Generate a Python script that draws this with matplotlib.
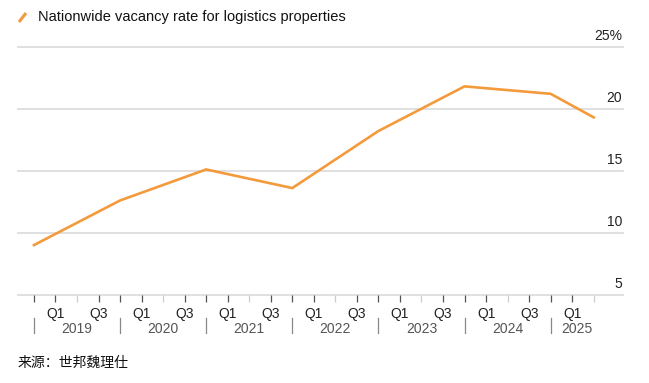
import matplotlib
matplotlib.use('Agg')
import matplotlib.pyplot as plt
import matplotlib.transforms as mtransforms
from matplotlib.lines import Line2D

plt.rcParams['font.family'] = ['Liberation Sans', 'Noto Sans CJK SC', 'DejaVu Sans']

# data, periods are quarter ends
periods = ['2018Q4', '2019Q4', '2020Q4', '2021Q4', '2022Q4', '2023Q4', '2024Q4', '2025Q2']
vacancy = [9.0, 12.6, 15.1, 13.6, 18.2, 21.8, 21.2, 19.3]
years = [2019, 2020, 2021, 2022, 2023, 2024, 2025]
y_ticks = [5, 10, 15, 20, 25]
series_name = 'Nationwide vacancy rate for logistics properties'
source = '来源：世邦魏理仕'

ORANGE = '#f39a3c'
GRID = '#dddddd'


def quarter_pos(p):
    # position in quarters counted from the start of 2019
    return (int(p[:4]) - 2019) * 4 + int(p[-1])


x = [quarter_pos(p) for p in periods]
n_q = (years[-1] - years[0]) * 4 + 2  # last tick at 2025 Q2 end

fig = plt.figure(figsize=(6.49, 3.83), dpi=100)
ax = fig.add_axes([18 / 649, 1 - 294.7 / 383, (623 - 18) / 649, (294.7 - 46.7) / 383])

ax.plot(x, vacancy, color=ORANGE, lw=1.9, solid_joinstyle='miter', zorder=3)

ax.set_ylim(y_ticks[0], y_ticks[-1])
ax.set_xlim(-0.74, 27.36)

for v in y_ticks:
    ax.axhline(v, color=GRID, lw=1.3, zorder=1, clip_on=False)
    lab = f'{v}%' if v == y_ticks[-1] else str(v)
    tr = mtransforms.offset_copy(ax.get_yaxis_transform(), fig=fig, x=-1, y=7, units='dots')
    ax.text(1.0, v, lab, transform=tr, ha='right', va='baseline', fontsize=10, color='#222222')

for s in ax.spines.values():
    s.set_visible(False)
ax.set_yticks([])

# quarter ticks: Q1/Q3 labeled, year starts dark, mid-year light
major = [q for q in range(n_q + 1) if q % 4 != 2]
minor = [q for q in range(n_q + 1) if q % 4 == 2]
ax.set_xticks(major)
ax.set_xticklabels(['Q1' if q % 4 == 1 else 'Q3' if q % 4 == 3 else '' for q in major])
ax.set_xticks(minor, minor=True)
ax.tick_params(axis='x', which='major', length=5, width=0.9, color='#555555',
               labelsize=10, labelcolor='#222222', pad=4)
ax.tick_params(axis='x', which='minor', length=5, width=0.9, color='#cccccc')

# year row
btr = ax.get_xaxis_transform()
for i, yr in enumerate(years):
    start = i * 4
    ax.plot([start, start], [-0.095, -0.155], transform=btr, color='#888888', lw=0.9, clip_on=False)
    end = min(start + 4, 27.36)
    ax.text((start + end) / 2 if yr != years[-1] else start + 1.2, -0.137, str(yr), transform=btr,
            ha='center', va='center', fontsize=10, color='#555555')

# legend at top
fig.add_artist(Line2D([19 / 649, 26 / 649], [1 - 22 / 383, 1 - 13 / 383], color=ORANGE, lw=2.2,
                      solid_capstyle='butt'))
fig.text(38 / 649, 1 - 17 / 383, series_name, ha='left', va='center', fontsize=10.5, color='#111111')

fig.text(18 / 649, 1 - 363 / 383, source, ha='left', va='center', fontsize=10, color='#111111',
         family=['Noto Sans CJK SC', 'DejaVu Sans'])

fig.savefig('out.png', dpi=100)
